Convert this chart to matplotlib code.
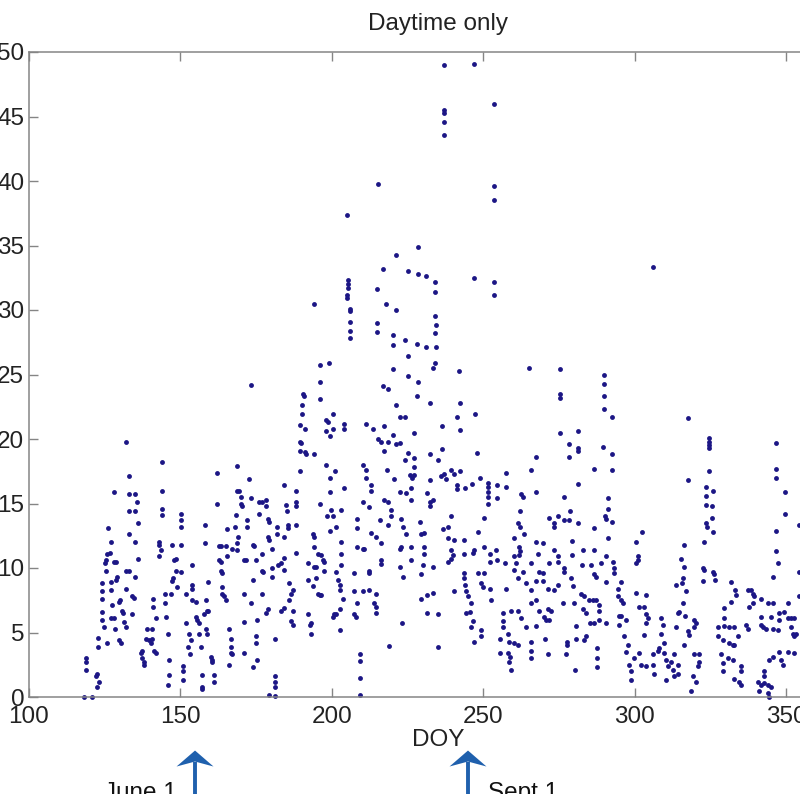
import numpy as np
import matplotlib
matplotlib.use('Agg')
import matplotlib.pyplot as plt
from matplotlib.patches import Polygon
from matplotlib.transforms import Affine2D

plt.rcParams.update({
    'font.family': ['Liberation Sans', 'DejaVu Sans'],
    'font.size': 17.5,
})

# May - early July
early_season = [
    (118.2, 0.0), (120.9, 0.0), (118.7, 3.0), (118.7, 2.7), (118.7, 2.1), (122.5, 1.8), (122.0, 1.6),
    (123.1, 1.2), (122.5, 0.8), (122.9, 4.6), (122.9, 3.9), (124.0, 8.8), (124.0, 8.2), (124.0, 7.6),
    (124.2, 6.6), (124.2, 6.0), (124.8, 5.4), (125.3, 10.6), (125.1, 10.4), (125.5, 9.8), (126.2, 13.1),
    (127.0, 12.0), (125.9, 11.1), (126.6, 11.2), (128.1, 10.5), (128.8, 10.5), (127.0, 8.9), (127.0, 8.3),
    (127.3, 7.1), (127.0, 6.1), (128.1, 6.1), (128.4, 5.3), (125.9, 4.2), (128.1, 15.9), (129.2, 9.3),
    (128.8, 9.1), (129.7, 7.4), (129.9, 7.5), (130.8, 6.7), (131.0, 6.5), (131.4, 5.8), (129.7, 4.4),
    (130.3, 4.2), (131.9, 5.4), (131.9, 19.8), (133.0, 17.1), (133.0, 15.7), (133.0, 14.4), (135.0, 15.7),
    (135.0, 14.4), (135.8, 15.1), (136.1, 13.5), (135.0, 12.0), (136.1, 10.7), (133.0, 12.6), (131.9, 9.8),
    (133.0, 9.8), (131.9, 8.4), (134.1, 7.8), (134.7, 7.7), (135.0, 9.3), (133.9, 6.4), (137.4, 3.6),
    (136.9, 3.4), (137.4, 3.0), (138.0, 2.7), (138.0, 2.5), (138.5, 4.5), (139.6, 4.4), (140.2, 4.2),
    (140.7, 4.5), (139.1, 5.3), (140.7, 5.3), (141.3, 3.6), (141.8, 3.4), (140.9, 7.6), (140.9, 7.0),
    (142.0, 6.1), (142.9, 12.0), (142.9, 11.8), (143.5, 11.4), (142.9, 10.9), (144.0, 18.2), (144.0, 16.0),
    (144.0, 14.6), (144.0, 14.1), (144.9, 8.0), (144.9, 7.3), (145.1, 6.2), (146.0, 4.9), (146.2, 2.9),
    (146.2, 1.7), (146.0, 0.9), (147.1, 11.8), (147.9, 10.6), (148.4, 10.7), (147.5, 9.2), (147.3, 9.0),
    (148.4, 9.8), (149.0, 8.5), (146.8, 8.0), (150.1, 14.2), (150.1, 13.7), (150.1, 13.2), (150.1, 11.8),
    (150.1, 9.7), (150.8, 2.4), (150.8, 2.0), (150.8, 1.3), (151.7, 8.0), (151.7, 5.7), (152.8, 4.9),
    (152.6, 3.9), (153.4, 4.4), (153.9, 10.2), (153.9, 8.7), (153.9, 8.4), (153.9, 7.5), (153.1, 3.3),
    (155.0, 6.2), (155.6, 6.0), (156.1, 5.7), (155.0, 7.4), (156.1, 4.9), (156.7, 3.9), (157.0, 1.7),
    (157.0, 0.8), (157.0, 0.6), (158.1, 13.3), (158.1, 11.9), (158.3, 7.5), (158.9, 6.7), (159.2, 6.7),
    (158.3, 5.3), (158.9, 4.9), (159.2, 8.9), (157.8, 6.4), (160.0, 3.1), (160.5, 2.9), (160.3, 2.7),
    (161.1, 1.7), (161.1, 1.2), (161.9, 17.4), (161.9, 15.0), (162.7, 11.7), (163.3, 10.5), (162.7, 10.6),
    (163.3, 9.8), (163.8, 9.6), (163.8, 8.5), (163.8, 8.0), (164.4, 7.8), (164.9, 7.5), (163.3, 11.7),
    (164.9, 11.7), (165.5, 10.9), (165.5, 13.0), (166.0, 5.3), (166.6, 4.5), (166.6, 3.9), (166.6, 3.4),
    (167.1, 3.3), (166.0, 2.5), (167.1, 11.5), (168.0, 13.2), (168.2, 14.1), (168.8, 17.9), (168.8, 16.0),
    (169.3, 16.0), (169.9, 15.5), (169.9, 15.0), (170.2, 14.8), (169.1, 12.4), (168.8, 11.4), (168.8, 11.9),
    (171.0, 10.6), (171.5, 10.6), (171.0, 8.0), (171.0, 5.8), (171.0, 3.4), (172.1, 13.7), (172.1, 13.2),
    (172.6, 16.9), (173.2, 15.4), (173.2, 24.2), (173.9, 11.8), (174.3, 11.7), (174.8, 10.6), (173.2, 7.3),
    (173.9, 9.1), (173.9, 2.3), (174.8, 4.7), (175.0, 4.2), (175.1, 6.0), (175.4, 2.9), (175.9, 14.2),
    (175.9, 15.1), (177.0, 15.1), (177.0, 11.1), (177.0, 9.8), (177.2, 9.7), (178.1, 15.3), (178.3, 14.8),
    (179.0, 13.8), (179.2, 13.6), (179.0, 12.4), (179.2, 12.2), (177.0, 8.0), (178.1, 6.5), (179.0, 6.8),
    (180.1, 11.5), (180.1, 10.0), (180.1, 9.3), (181.2, 4.5), (181.2, 1.6), (181.2, 1.2), (181.2, 0.8),
    (179.2, 0.15), (181.2, 0.1), (182.0, 13.2), (182.0, 12.6), (182.3, 10.2), (183.1, 10.4), (183.1, 6.7),
]

# July - mid September, values below 25
midseason_low = [
    (196.2, 24.4), (196.2, 23.1), (190.4, 23.5), (190.9, 23.3), (190.0, 22.6), (190.0, 21.9), (189.3, 21.1),
    (191.1, 20.8), (189.3, 19.8), (189.8, 19.7), (189.3, 19.1), (191.1, 19.0), (191.5, 18.8), (194.0, 18.8),
    (189.3, 17.5), (184.3, 16.4), (188.1, 16.0), (188.1, 15.1), (188.1, 14.8), (184.9, 14.9), (185.2, 14.4),
    (188.1, 13.3), (185.4, 13.3), (185.4, 13.1), (184.3, 12.4), (184.3, 10.8), (188.1, 11.2), (184.3, 9.85),
    (185.9, 8.8), (187.0, 8.3), (186.5, 8.0), (185.9, 7.5), (187.0, 6.7), (186.5, 5.9), (187.0, 5.6),
    (184.3, 6.9), (192.0, 6.4), (192.6, 5.6), (193.1, 5.7), (193.1, 4.9), (192.0, 10.4), (193.7, 12.6),
    (194.2, 12.4), (194.2, 11.6), (195.3, 11.1), (194.8, 10.1), (194.2, 10.1), (196.4, 11.0), (196.9, 10.6),
    (197.3, 10.5), (197.3, 9.8), (192.0, 9.1), (193.7, 8.6), (195.3, 8.0), (195.9, 7.9), (196.4, 7.9),
    (194.8, 9.2), (196.2, 15.0), (198.1, 21.5), (198.1, 20.6), (198.6, 21.3), (199.2, 20.2), (200.3, 21.9),
    (200.3, 20.8), (204.1, 21.2), (204.1, 20.8), (198.1, 18.0), (199.2, 17.0), (201.1, 17.5), (204.1, 16.2),
    (199.2, 15.9), (199.7, 14.5), (200.3, 14.0), (198.4, 14.0), (201.4, 13.2), (199.2, 12.9), (203.0, 14.5),
    (203.0, 12.0), (203.0, 11.1), (203.0, 10.2), (201.4, 9.7), (201.9, 9.1), (202.5, 8.7), (202.5, 8.3),
    (203.5, 7.6), (200.8, 6.4), (201.4, 6.4), (202.5, 6.8), (200.3, 6.2), (202.5, 5.2), (207.2, 9.6),
    (207.2, 8.2), (208.3, 7.3), (207.2, 6.4), (207.9, 6.2), (209.1, 3.3), (209.1, 2.8), (209.1, 1.45),
    (209.1, 0.15), (208.3, 13.8), (208.3, 13.1), (208.3, 11.6), (210.2, 11.5), (210.7, 11.5), (210.2, 18.0),
    (211.3, 17.6), (210.2, 15.1), (212.3, 14.7), (211.3, 17.0), (212.9, 16.4), (212.9, 16.0), (212.3, 9.8),
    (212.3, 9.6), (210.2, 8.2), (212.3, 8.3), (214.6, 8.0), (214.0, 7.3), (214.6, 7.0), (214.6, 6.5),
    (211.3, 21.2), (213.5, 20.8), (212.9, 12.7), (214.6, 12.4), (216.2, 11.9), (216.2, 10.6), (216.2, 10.3),
    (215.1, 20.0), (216.2, 19.8), (218.4, 19.8), (217.3, 19.1), (217.1, 21.0), (216.8, 24.1), (218.4, 23.9),
    (218.2, 17.6), (217.3, 15.3), (218.4, 15.1), (219.5, 14.5), (219.5, 14.0), (218.4, 13.3), (216.0, 13.7),
    (220.6, 16.9), (220.3, 20.3), (221.2, 19.6), (222.3, 19.7), (221.2, 22.6), (222.3, 21.7), (224.1, 21.7),
    (225.2, 24.9), (228.3, 24.4), (228.1, 23.3), (232.2, 22.8), (227.2, 20.5), (225.0, 18.9), (224.1, 18.4),
    (227.2, 18.5), (227.2, 17.8), (225.6, 17.2), (226.3, 17.0), (227.2, 17.2), (226.1, 16.2), (222.3, 15.9),
    (224.5, 15.8), (226.1, 15.3), (222.8, 13.8), (223.4, 13.2), (224.5, 12.6), (222.3, 11.5), (222.8, 11.6),
    (226.1, 11.6), (226.1, 10.6), (222.3, 10.1), (223.4, 9.3), (229.2, 13.6), (229.4, 12.6), (230.5, 12.7),
    (230.3, 11.6), (230.3, 11.1), (230.0, 10.2), (233.3, 10.1), (229.4, 9.5), (229.4, 7.6), (231.4, 7.9),
    (233.3, 8.1), (231.4, 6.5), (235.1, 6.4), (223.0, 5.7), (218.9, 3.95), (235.1, 3.9), (231.4, 15.8),
    (232.2, 15.1), (233.3, 15.3), (232.2, 16.8), (232.2, 14.8), (232.2, 18.8), (235.1, 18.4), (236.2, 21.0),
    (236.2, 19.2), (236.9, 17.3), (236.0, 17.1), (237.7, 16.9), (239.3, 17.6), (240.4, 17.3), (242.1, 17.5),
    (241.3, 21.7), (242.4, 22.8), (242.4, 20.7), (241.3, 16.4), (241.3, 16.1), (243.9, 16.2), (246.1, 16.5),
    (239.3, 14.0), (238.2, 13.2), (236.6, 13.0), (238.2, 12.3), (240.4, 12.2), (239.3, 11.4), (239.9, 11.0),
    (239.3, 10.7), (238.2, 10.5), (243.5, 12.2), (243.5, 11.1), (243.5, 9.6), (243.5, 9.2), (243.9, 8.7),
    (244.2, 8.2), (245.0, 7.8), (245.9, 7.3), (245.4, 6.6), (244.3, 6.5), (246.5, 5.9), (245.9, 5.4),
    (247.0, 4.3), (249.2, 4.7), (249.2, 5.2), (240.2, 8.2), (247.9, 18.9), (247.3, 21.9), (249.0, 17.0),
    (251.4, 16.6), (251.4, 16.3), (251.4, 15.9), (251.4, 15.5), (251.4, 15.0), (254.5, 16.4), (254.5, 15.4),
    (257.5, 16.3), (257.5, 17.4), (250.3, 13.9), (248.1, 12.8), (247.0, 11.4), (246.5, 11.2), (250.3, 11.6),
    (252.0, 11.1), (252.3, 10.5), (254.2, 11.4), (254.5, 10.6), (248.1, 9.6), (250.3, 9.6), (249.2, 8.8),
    (249.8, 8.5), (252.3, 8.4), (252.5, 7.5), (257.1, 10.4), (257.5, 8.4), (256.4, 6.5), (256.4, 5.9),
    (256.4, 5.4), (259.1, 6.7), (261.3, 6.7), (255.3, 4.5), (258.0, 4.9), (258.6, 4.3), (260.2, 4.2),
    (255.3, 3.4), (258.0, 3.4), (258.9, 3.1), (258.6, 2.7), (259.1, 2.1), (262.4, 15.7), (263.0, 15.5),
    (262.2, 14.4), (261.3, 13.5), (262.2, 13.2), (263.5, 12.6), (260.2, 12.3), (261.9, 11.6), (262.2, 11.3),
    (261.9, 11.0), (260.2, 10.9), (260.8, 10.4), (260.2, 9.85), (261.3, 9.2), (263.0, 9.7), (264.1, 5.4),
    (264.1, 8.8), (262.4, 6.1), (261.3, 4.0),
]

# July - mid September, values above 25
midseason_high = [
    (215.2, 39.8), (205.0, 37.4), (237.0, 49.0), (237.0, 45.5), (237.1, 45.3), (237.0, 44.6), (237.0, 43.6),
    (247.0, 49.1), (253.5, 46.0), (253.5, 39.6), (253.5, 38.5), (253.5, 32.2), (253.5, 31.2), (247.0, 32.5),
    (228.4, 34.9), (221.0, 34.3), (217.0, 33.2), (225.0, 33.0), (228.4, 32.8), (231.0, 32.6), (234.0, 32.2),
    (234.0, 31.4), (234.0, 29.5), (234.4, 28.8), (233.9, 28.2), (234.5, 27.1), (234.0, 25.9), (233.5, 25.5),
    (205.3, 32.3), (205.3, 32.0), (205.3, 31.7), (205.0, 31.2), (204.9, 30.9), (194.0, 30.5), (206.0, 30.1),
    (206.0, 29.9), (206.0, 29.1), (206.0, 28.4), (206.0, 27.8), (215.0, 31.6), (215.0, 29.0), (215.0, 28.3),
    (218.0, 30.5), (221.0, 30.0), (220.0, 28.1), (220.0, 27.3), (224.0, 27.7), (228.0, 27.4), (231.0, 27.1),
    (225.0, 26.4), (196.0, 25.7), (199.0, 25.9), (220.0, 25.4), (242.0, 25.3), (265.0, 25.5),
]

# Late September - December
late_season = [
    (275.4, 25.4), (275.4, 23.5), (275.4, 23.2), (289.7, 25.0), (289.7, 24.3), (289.7, 23.3), (289.7, 22.3),
    (292.3, 21.7), (267.3, 18.6), (265.7, 17.6), (267.3, 15.9), (275.4, 20.5), (278.4, 19.6), (278.4, 18.6),
    (281.3, 20.6), (281.3, 19.3), (281.3, 19.1), (281.3, 16.5), (286.4, 17.7), (289.4, 19.4), (292.3, 18.8),
    (292.3, 17.6), (291.2, 15.4), (291.2, 14.6), (290.1, 14.0), (290.5, 13.8), (292.3, 13.6), (291.2, 12.3),
    (286.4, 13.1), (276.5, 15.5), (278.7, 14.4), (276.7, 13.7), (278.4, 13.7), (271.7, 13.9), (273.4, 13.5),
    (273.4, 13.2), (274.5, 14.0), (281.3, 13.5), (267.3, 12.0), (269.5, 11.9), (268.1, 11.1), (273.4, 11.4),
    (274.5, 10.9), (274.5, 10.5), (276.5, 10.0), (276.5, 9.7), (279.2, 12.1), (279.2, 11.0), (282.8, 11.4),
    (286.4, 11.4), (282.4, 10.2), (285.5, 10.2), (288.8, 10.4), (290.5, 10.9), (292.7, 10.5), (293.2, 10.0),
    (293.2, 9.6), (265.7, 10.4), (268.4, 9.7), (269.5, 9.6), (267.3, 9.0), (269.5, 9.0), (271.7, 10.4),
    (271.2, 8.4), (273.4, 8.3), (274.5, 8.7), (278.9, 9.2), (279.5, 8.6), (286.4, 9.5), (287.2, 9.3),
    (290.5, 8.9), (295.4, 8.9), (294.3, 8.4), (294.3, 7.8), (295.4, 7.5), (296.0, 7.3), (265.7, 8.3),
    (265.7, 7.3), (267.3, 7.5), (268.4, 6.7), (271.2, 6.8), (272.3, 6.7), (270.1, 6.2), (270.6, 6.0),
    (271.7, 6.0), (276.1, 7.3), (279.8, 7.3), (282.2, 8.0), (283.3, 7.8), (284.9, 7.5), (286.0, 7.5),
    (287.2, 7.5), (282.8, 6.8), (283.9, 6.5), (288.3, 7.1), (288.3, 6.7), (285.3, 5.7), (286.6, 5.7),
    (288.3, 6.0), (290.5, 5.7), (294.9, 6.3), (295.4, 6.3), (294.9, 5.6), (297.1, 6.0), (280.5, 5.5),
    (265.7, 4.3), (265.7, 3.6), (265.7, 3.0), (267.3, 5.5), (270.3, 4.5), (271.2, 3.3), (277.6, 4.3),
    (277.6, 4.0), (277.3, 3.3), (280.5, 4.5), (283.3, 4.4), (283.8, 4.7), (280.2, 2.1), (287.5, 3.8),
    (287.5, 3.0), (287.5, 2.3), (296.5, 4.7), (297.6, 4.0), (297.1, 3.5), (298.2, 2.5), (298.7, 2.0),
    (298.7, 1.3), (299.8, 3.0), (300.4, 12.0), (300.9, 10.9), (300.9, 10.6), (300.4, 10.4), (302.3, 12.8),
    (300.4, 8.1), (301.5, 7.0), (303.1, 7.0), (303.6, 7.9), (303.6, 6.4), (304.2, 6.1), (303.1, 4.8),
    (303.6, 5.7), (301.5, 3.4), (302.0, 2.5), (303.6, 2.4), (305.9, 3.3), (305.9, 2.5), (306.4, 1.8),
    (307.5, 3.6), (308.1, 3.8), (309.7, 3.4), (308.6, 6.1), (309.2, 5.6), (308.6, 4.9), (309.5, 4.2),
    (310.3, 2.9), (310.8, 2.4), (311.9, 2.7), (312.5, 2.1), (313.0, 1.6), (310.3, 1.3), (314.1, 2.5),
    (314.1, 1.8), (313.0, 3.3), (313.6, 8.7), (314.1, 6.5), (314.7, 6.6), (313.6, 5.4), (315.2, 10.7),
    (315.8, 9.2), (315.4, 8.8), (316.3, 11.8), (316.3, 10.1), (315.8, 7.3), (316.9, 8.2), (316.5, 6.3),
    (317.4, 5.1), (318.0, 4.8), (316.3, 4.0), (319.6, 6.0), (320.2, 5.7), (319.6, 5.4), (319.6, 3.3),
    (321.3, 3.3), (321.3, 2.7), (320.7, 2.4), (319.1, 1.6), (320.2, 1.2), (318.5, 0.5), (317.4, 21.6),
    (317.4, 16.8), (324.3, 20.1), (324.5, 19.8), (324.5, 19.5), (324.5, 19.3), (324.3, 17.5), (323.5, 16.3),
    (323.5, 15.6), (323.5, 14.9), (323.5, 13.5), (323.8, 13.2), (325.7, 16.0), (325.3, 14.8), (325.3, 13.9),
    (325.7, 12.8), (322.7, 12.0), (322.4, 10.0), (322.7, 9.85), (322.4, 9.0), (325.7, 9.7), (326.2, 9.5),
    (326.4, 9.1), (331.7, 8.9), (333.0, 8.3), (333.4, 7.9), (331.7, 7.4), (329.5, 6.9), (329.5, 6.1),
    (329.5, 5.5), (331.2, 5.4), (332.8, 5.4), (327.3, 5.4), (327.3, 4.7), (329.0, 4.4), (331.2, 4.2),
    (332.3, 4.0), (332.8, 4.0), (333.9, 4.7), (328.4, 3.3), (330.6, 3.0), (332.3, 2.9), (329.0, 2.6),
    (329.0, 2.0), (332.8, 1.4), (334.5, 1.2), (335.0, 0.9), (335.0, 2.4), (335.0, 2.0), (336.7, 5.6),
    (337.2, 5.3), (337.2, 8.3), (338.3, 8.3), (338.9, 8.0), (339.4, 7.8), (338.9, 7.3), (337.8, 7.0),
    (341.6, 7.6), (341.6, 6.2), (341.6, 5.6), (342.2, 5.4), (343.3, 5.3), (343.8, 7.3), (345.5, 7.3),
    (344.9, 6.2), (347.7, 6.5), (347.7, 6.0), (345.5, 5.3), (347.1, 5.2), (349.3, 6.6), (350.4, 6.1),
    (351.5, 6.1), (352.6, 6.1), (350.4, 7.3), (351.5, 5.4), (352.1, 4.9), (353.2, 4.9), (352.6, 4.7),
    (347.7, 3.5), (348.2, 2.9), (348.8, 2.5), (350.4, 3.5), (352.6, 3.4), (344.4, 2.9), (345.5, 3.1),
    (342.7, 2.0), (342.7, 1.6), (340.5, 1.2), (341.6, 0.9), (341.1, 0.5), (342.7, 1.1), (344.0, 0.9),
    (344.0, 0.3), (344.9, 0.8), (344.4, 0.0), (347.1, 10.4), (345.5, 9.3), (346.6, 12.9), (346.6, 11.3),
    (346.6, 19.7), (346.6, 17.7), (346.6, 17.0), (349.5, 15.9), (349.5, 14.2), (354.3, 13.3), (354.3, 9.7),
    (354.3, 7.8), (306.0, 33.3),
]

# Date markers under the axis
marker_doy = [154.8, 244.9]
marker_text = ['June 1', 'Sept 1']

pts = np.array(early_season + midseason_low + midseason_high + late_season)
doy = pts[:, 0]
vals = pts[:, 1]

fig = plt.figure(figsize=(8.0, 7.94), dpi=100)
# axes run off the right edge of the canvas, like the cropped original
ax = fig.add_axes([29 / 800, 97 / 794, 818 / 800, 645 / 794])

ax.plot(doy, vals, 'o', color='#1c1685', ms=3.5, mew=0, clip_on=False)

ax.set_xlim(100, 370)
ax.set_ylim(0, 50)
ax.set_xticks([100, 150, 200, 250, 300, 350])
ax.set_yticks(np.arange(0, 51, 5))

for side in ['top', 'bottom', 'left', 'right']:
    ax.spines[side].set_color('#858585')
    ax.spines[side].set_linewidth(1.1)
ax.tick_params(direction='in', length=6.5, width=1.0, color='#858585',
               labelcolor='#222222', top=True, right=True)
ax.tick_params(axis='x', pad=6.5)
ax.tick_params(axis='y', pad=3.5)

ax.set_title('Daytime only', fontsize=17.5, pad=16, color='#222222')
ax.set_xlabel('DOY', labelpad=1, color='#222222')

# date arrows: swept-back head drawn in pixel units, shaft runs off the bottom
arrow_col = '#1f60ad'
trans = ax.get_xaxis_transform()
head = np.array([[0, 0], [-18.5, -16], [0, -11], [18.5, -16]])
for d in marker_doy:
    tip = trans.transform((d, -0.083))
    ax.add_patch(Polygon(head, closed=True, facecolor=arrow_col, edgecolor='none',
                         transform=Affine2D().translate(*tip), clip_on=False))
    ax.plot([d, d], [-0.1, -0.2], transform=trans, color=arrow_col, lw=2.8,
            solid_capstyle='butt', clip_on=False)

ax.text(marker_doy[0] - 6.0, -0.132, marker_text[0], transform=trans, ha='right', va='top',
        color='#111111', clip_on=False)
ax.text(marker_doy[1] + 6.5, -0.132, marker_text[1], transform=trans, ha='left', va='top',
        color='#111111', clip_on=False)

fig.savefig('out.png', dpi=100)
plt.close(fig)
